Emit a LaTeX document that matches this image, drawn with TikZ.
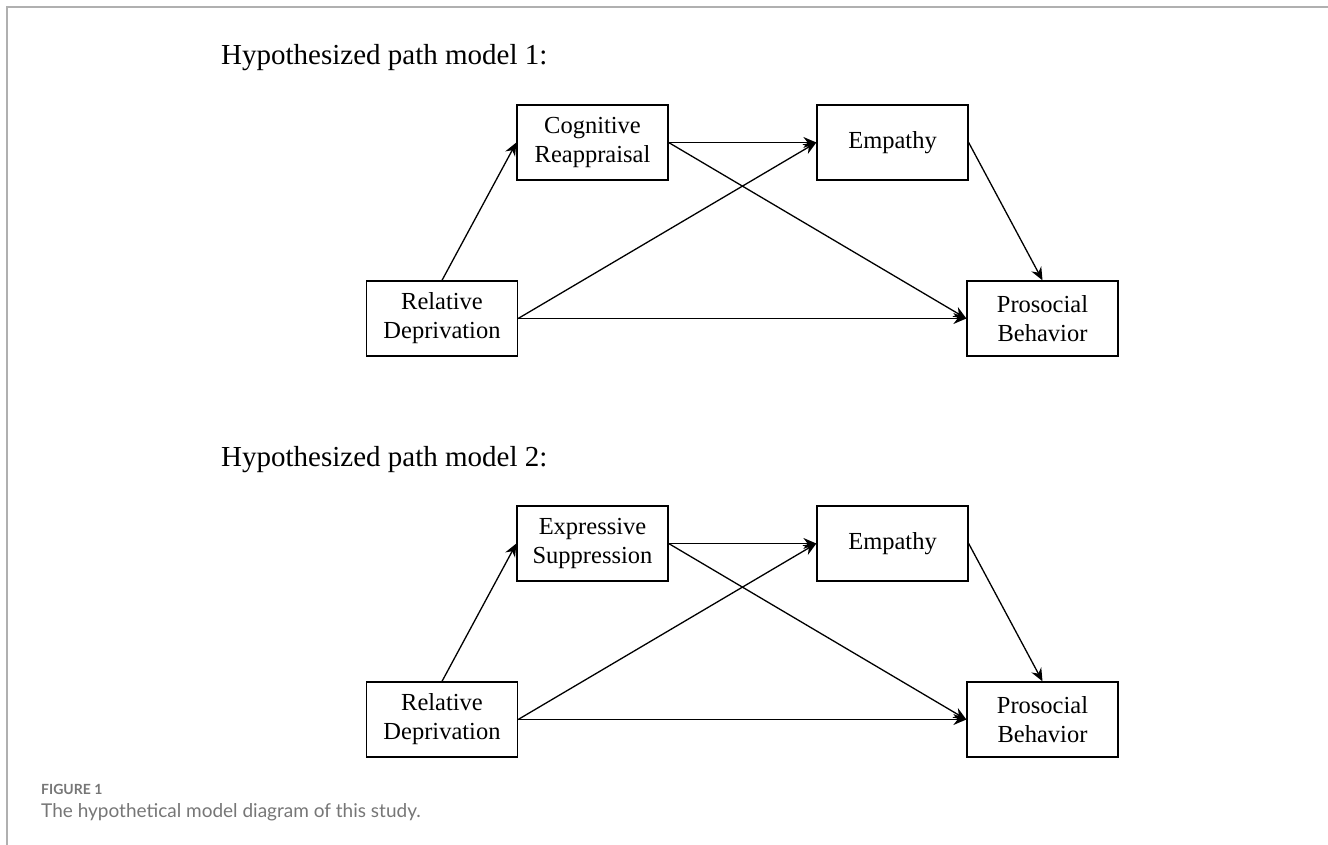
\documentclass[tikz,border=0pt]{standalone}
\usepackage{fontspec}
\setmainfont{Liberation Serif}
\newfontfamily\capfont{Lato}
\usetikzlibrary{arrows.meta}
\definecolor{framegray}{RGB}{176,176,176}
\definecolor{capgray}{RGB}{118,118,118}

\begin{document}
\begin{tikzpicture}[x=1pt, y=-1pt,
    box/.style={draw, line width=1.3pt, minimum width=151pt, minimum height=75pt,
      inner sep=0pt, align=center, font=\fontsize{24.5}{29}\selectfont},
    link/.style={-{Stealth[length=13pt, width=11pt]}, line width=1.3pt},
    heading/.style={anchor=base west, inner sep=0pt, font=\fontsize{29}{34}\selectfont}]
      \useasboundingbox (0, 0) rectangle (1328, 845);
      \draw[line width=1.6pt, framegray] (1328, 7) -- (7, 7) -- (7, 845);

      \node (head1) [heading] at (221, 65) {Hypothesized path model 1:};
      \node (cr) [box] at (592.5, 142.5) {Cognitive\\Reappraisal};
      \node (emp1) [box] at (892.5, 142.5) {Empathy};
      \node (rd1) [box] at (442, 318.5) {Relative\\Deprivation};
      \node (pb1) [box] at (1042.5, 318.5) {Prosocial\\Behavior};
      \draw[link] (rd1.north) -- (cr.west);
      \draw[link] (cr.east) -- (emp1.west);
      \draw[link] (cr.east) -- (pb1.west);
      \draw[link] (rd1.east) -- (emp1.west);
      \draw[link] (rd1.east) -- (pb1.west);
      \draw[link] (emp1.east) -- (pb1.north);

      \node (head2) [heading] at (221, 466) {Hypothesized path model 2:};
      \node (es) [box] at (592.5, 543.5) {Expressive\\Suppression};
      \node (emp2) [box] at (892.5, 543.5) {Empathy};
      \node (rd2) [box] at (442, 719.5) {Relative\\Deprivation};
      \node (pb2) [box] at (1042.5, 719.5) {Prosocial\\Behavior};
      \draw[link] (rd2.north) -- (es.west);
      \draw[link] (es.east) -- (emp2.west);
      \draw[link] (es.east) -- (pb2.west);
      \draw[link] (rd2.east) -- (emp2.west);
      \draw[link] (rd2.east) -- (pb2.west);
      \draw[link] (emp2.east) -- (pb2.north);

      \node (fig) [anchor=base west, inner sep=0pt, text=capgray,
        font=\capfont\bfseries\fontsize{14}{17}\selectfont] at (41, 794) {FIGURE 1};
      \node (cap) [anchor=base west, inner sep=0pt, text=capgray,
        font=\capfont\fontsize{19}{23}\selectfont] at (41, 817) {The hypothetical model diagram of this study.};
\end{tikzpicture}
\end{document}
